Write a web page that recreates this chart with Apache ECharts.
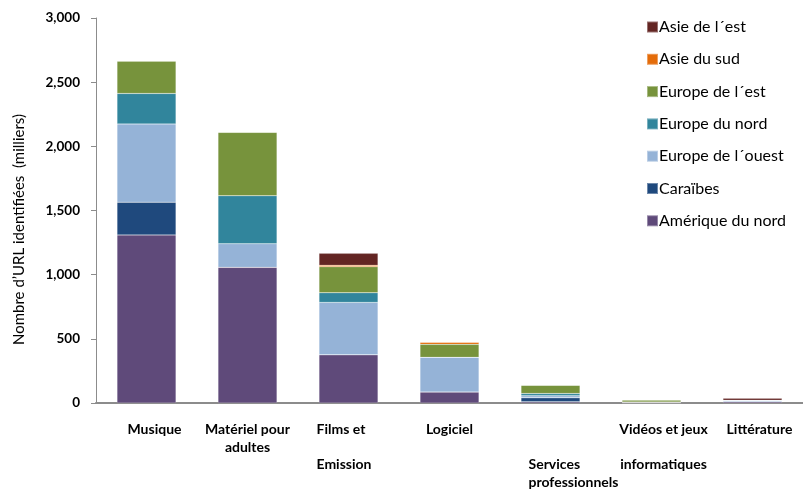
<!DOCTYPE html>
<html>
<head>
<meta charset="utf-8">
<script src="https://cdn.jsdelivr.net/npm/echarts@6/dist/echarts.min.js"></script>
<style>
  html, body { margin: 0; padding: 0; background: #fff; }
  #chart { width: 803px; height: 491px; }
</style>
</head>
<body>
<div id="chart"></div>
<script>
// Categories and their wrapped tick labels
const categories = ['Musique', 'Matériel pour adultes', 'Films et Emission', 'Logiciel',
  'Services professionnels', 'Vidéos et jeux informatiques', 'Littérature'];
const tickLabels = ['Musique', 'Matériel pour\nadultes', 'Films et\n\nEmission', 'Logiciel',
  '\n\nServices\nprofessionnels', 'Vidéos et jeux\n\ninformatiques', 'Littérature'];

// URLs identified per region (thousands)
const ameriqueNord = [1310, 1057, 376, 86, 10, 3, 10];
const caraibes     = [255, 0, 0, 0, 30, 0, 0];
const europeOuest  = [610, 184, 408, 270, 16, 4, 10];
const europeNord   = [237, 374, 75, 0, 18, 0, 0];
const europeEst    = [252, 494, 203, 101, 65, 17, 2];
const asieSud      = [0, 0, 11, 16, 0, 0, 0];
const asieEst      = [0, 0, 93, 0, 0, 0, 15];

const seriesNames = ['Amérique du nord', 'Caraïbes', 'Europe de l´ouest', 'Europe du nord',
  'Europe de l´est', 'Asie du sud', 'Asie de l´est'];
const seriesData = [ameriqueNord, caraibes, europeOuest, europeNord, europeEst, asieSud, asieEst];
const colors = ['#5F4A7A', '#1F497D', '#95B3D7', '#31859C', '#77933C', '#E46C0A', '#632523'];

// Y axis ticks
const yMin = 0, yMax = 3000, yStep = 500;

// Per-label horizontal nudges (padding left/right) and line alignment
const labelLayout = [
  { pad: [0, 0, 0, 16], align: 'center' },
  { pad: [0, 0, 0, 0], align: 'center' },
  { pad: [0, 2, 0, 0], align: 'left', width: 62 },
  { pad: [0, 0, 0, 0], align: 'center' },
  { pad: [0, 0, 0, 60], align: 'left', width: 104 },
  { pad: [0, 0, 0, 24], align: 'center' },
  { pad: [0, 0, 0, 14], align: 'center' }
];

const labelFont = { fontFamily: 'Lato', fontWeight: 'bold', fontSize: 14, color: '#000', lineHeight: 17.5 };
const rich = {};
labelLayout.forEach((l, i) => {
  rich['s' + i] = Object.assign({}, labelFont, { align: l.align, padding: l.pad },
    l.width ? { width: l.width } : {});
});

const chart = echarts.init(document.getElementById('chart'), null, { renderer: 'canvas' });

chart.setOption({
  animation: false,
  color: colors,
  grid: { left: 96, right: -9, top: 18, bottom: 88 },
  legend: {
    orient: 'vertical',
    left: 641,
    top: 14,
    itemWidth: 11,
    itemHeight: 11,
    itemGap: 16.3,
    icon: 'rect',
    data: seriesNames.slice().reverse(),
    textStyle: { fontFamily: 'Lato', fontSize: 16, color: '#000', padding: [0, 0, 0, -4] }
  },
  xAxis: {
    type: 'category',
    data: categories,
    axisLine: { lineStyle: { color: '#8C8C8C', width: 2 } },
    axisTick: { show: false },
    axisLabel: {
      interval: 0,
      margin: 18,
      lineHeight: 17.5,
      fontFamily: 'Lato', fontWeight: 'bold', fontSize: 14, color: '#000',
      formatter: function (value, idx) {
        const lines = tickLabels[idx].split('\n');
        return lines.map(t => '{s' + idx + '|' + (t.length ? t : ' ') + '}').join('\n');
      },
      rich: rich
    }
  },
  yAxis: {
    type: 'value',
    min: yMin,
    max: yMax,
    interval: yStep,
    name: 'Nombre d’URL identifiées  (milliers)',
    nameLocation: 'middle',
    nameGap: 69,
    nameTextStyle: { fontFamily: 'Lato', fontSize: 15, color: '#000', padding: [0, 38, 0, 0] },
    axisLine: { show: true, lineStyle: { color: '#8C8C8C', width: 1 } },
    axisTick: { show: true, length: 5, lineStyle: { color: '#8C8C8C' } },
    splitLine: { show: false },
    axisLabel: {
      margin: 16,
      fontFamily: 'Lato', fontWeight: 'bold', fontSize: 13.5, color: '#000',
      formatter: v => v.toLocaleString('en-US')
    }
  },
  series: seriesNames.map((name, i) => ({
    name: name,
    type: 'bar',
    stack: 'total',
    barWidth: 59,
    data: seriesData[i],
    itemStyle: { color: colors[i], borderColor: 'rgba(255,255,255,0.35)', borderWidth: 0.5 }
  }))
});
</script>
</body>
</html>
